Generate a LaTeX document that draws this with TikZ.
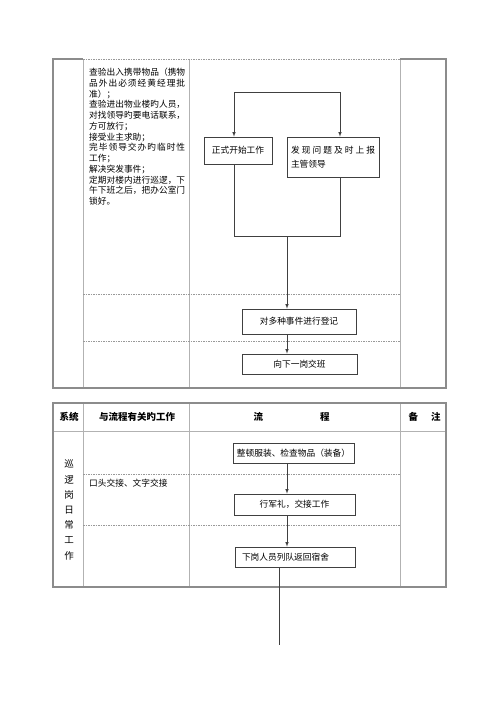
\documentclass[tikz,border=0pt]{standalone}
\usepackage{fontspec}
\usepackage{tikz}
\usetikzlibrary{calc}
\newfontfamily\cjk{Noto Sans CJK SC}
\XeTeXlinebreaklocale "zh"
\XeTeXlinebreakskip=0pt plus 1pt

\begin{document}
\begin{tikzpicture}[x=1pt,y=-1pt]
        \tikzstyle{every node}=[inner sep=0pt, font=\cjk\fontsize{8.7}{10.75}\selectfont]
        \tikzstyle{box}=[draw=black!75, line width=0.6pt, inner sep=4pt]
        \tikzstyle{head}=[font=\cjk\bfseries\fontsize{9.5}{11}\selectfont]
        \tikzstyle{outer}=[draw=black!45, line width=1.2pt]
        \tikzstyle{inner}=[draw=black!30, line width=0.7pt]
        \tikzstyle{sepline}=[draw=black!40, line width=0.5pt, dash pattern=on 1.5pt off 1pt]
        \useasboundingbox (0,0) rectangle (500,707);

        \foreach \x in {83,189,400} \draw[inner] (\x,59) -- (\x,388);
        \foreach \y in {294,341} \draw[sepline] (83,\y) -- (400,\y);
        \draw[sepline] (83,59) -- (400,59);
        \draw[outer] (83,59) -- (53,59) -- (53,388) -- (446,388) -- (446,59) -- (400,59);

        \foreach \x in {83,189,400} \draw[inner] (\x,403) -- (\x,587);
        \foreach \y in {474,525} \draw[sepline] (83,\y) -- (400,\y);
        \draw[inner] (53,431) -- (446,431);
        \draw[outer] (53,403) rectangle (446,587);

        \node[anchor=north west, text width=96pt, align=justify] (t0) at (89,68) {查验出入携带物品（携物\linebreak 品外出必须经黄经理批\linebreak 准）；\par 查验进出物业楼旳人员，\linebreak 对找领导旳要电话联系，\linebreak 方可放行；\par 接受业主求助；\par 完毕领导交办旳临时性\linebreak 工作；\par 解决突发事件；\par 定期对楼内进行巡逻，下\linebreak 午下班之后，把办公室门\linebreak 锁好。};

        \node[box, minimum width=68pt, minimum height=27pt] (b1) at (238,150.5) {正式开始工作};
        \node[box, text width=84pt, minimum height=40pt, align=justify, font=\cjk\fontsize{8.7}{14}\selectfont] (b2) at (333,157) {发现问题及时上报\linebreak 主管领导};
        \node[box, minimum width=114pt, minimum height=25pt] (b3) at (299,321.5) {对多种事件进行登记};
        \node[box, minimum width=115pt, minimum height=20pt] (b4) at (299.5,364) {向下一岗交班};

        \coordinate (t1) at (234,92);
        \coordinate (t2) at (340,92);
        \coordinate (j1) at (234,236);
        \coordinate (j2) at (340,236);
        \coordinate (j0) at (287,236);

        \draw[black!75, line width=0.6pt] (t1) -- (t2);
        \draw[black!75, line width=0.6pt, -latex] (t1) -- (t1 |- b1.north);
        \draw[black!75, line width=0.6pt, -latex] (t2) -- (t2 |- b2.north);
        \draw[black!75, line width=0.6pt] (t1 |- b1.south) -- (j1) -- (j2) -- (t2 |- b2.south);
        \draw[black!75, line width=0.6pt, -latex] (j0) -- (j0 |- b3.north);
        \draw[black!75, line width=0.6pt, -latex] (j0 |- b3.south) -- (j0 |- b4.north);

        \node[head] (h1) at (69,417) {系统};
        \node[head] (h2) at (137,417) {与流程有关旳工作};
        \node[head] (h3) at (291.5,417) {流\hspace{57pt}程};
        \node[head] (h4) at (424.5,417) {备\hspace{13pt}注};
        \node[align=center, font=\cjk\fontsize{9.5}{15.2}\selectfont] (v) at (69,510) {巡\\逻\\岗\\日\\常\\工\\作};
        \node[anchor=west] (t1b) at (89,483) {口头交接、文字交接};

        \node[box, minimum width=119pt, minimum height=20pt] (c1) at (293.5,453) {整顿服装、检查物品（装备）};
        \node[box, minimum width=121pt, minimum height=21pt] (c2) at (294.5,504.5) {行军礼，交接工作};
        \node[box, text width=106pt, inner xsep=7pt, minimum height=20pt, align=left] (c3) at (295,557) {下岗人员列队返回宿舍};

        \coordinate (k) at (287,450);
        \coordinate (e) at (279,645);

        \draw[black!75, line width=0.6pt, -latex] (c1.south -| k) -- (c2.north -| k);
        \draw[black!75, line width=0.6pt, -latex] (c2.south -| k) -- (c3.north -| k);
        \draw[black!75, line width=0.6pt] (c3.south -| e) -- (e);
\end{tikzpicture}
\end{document}
